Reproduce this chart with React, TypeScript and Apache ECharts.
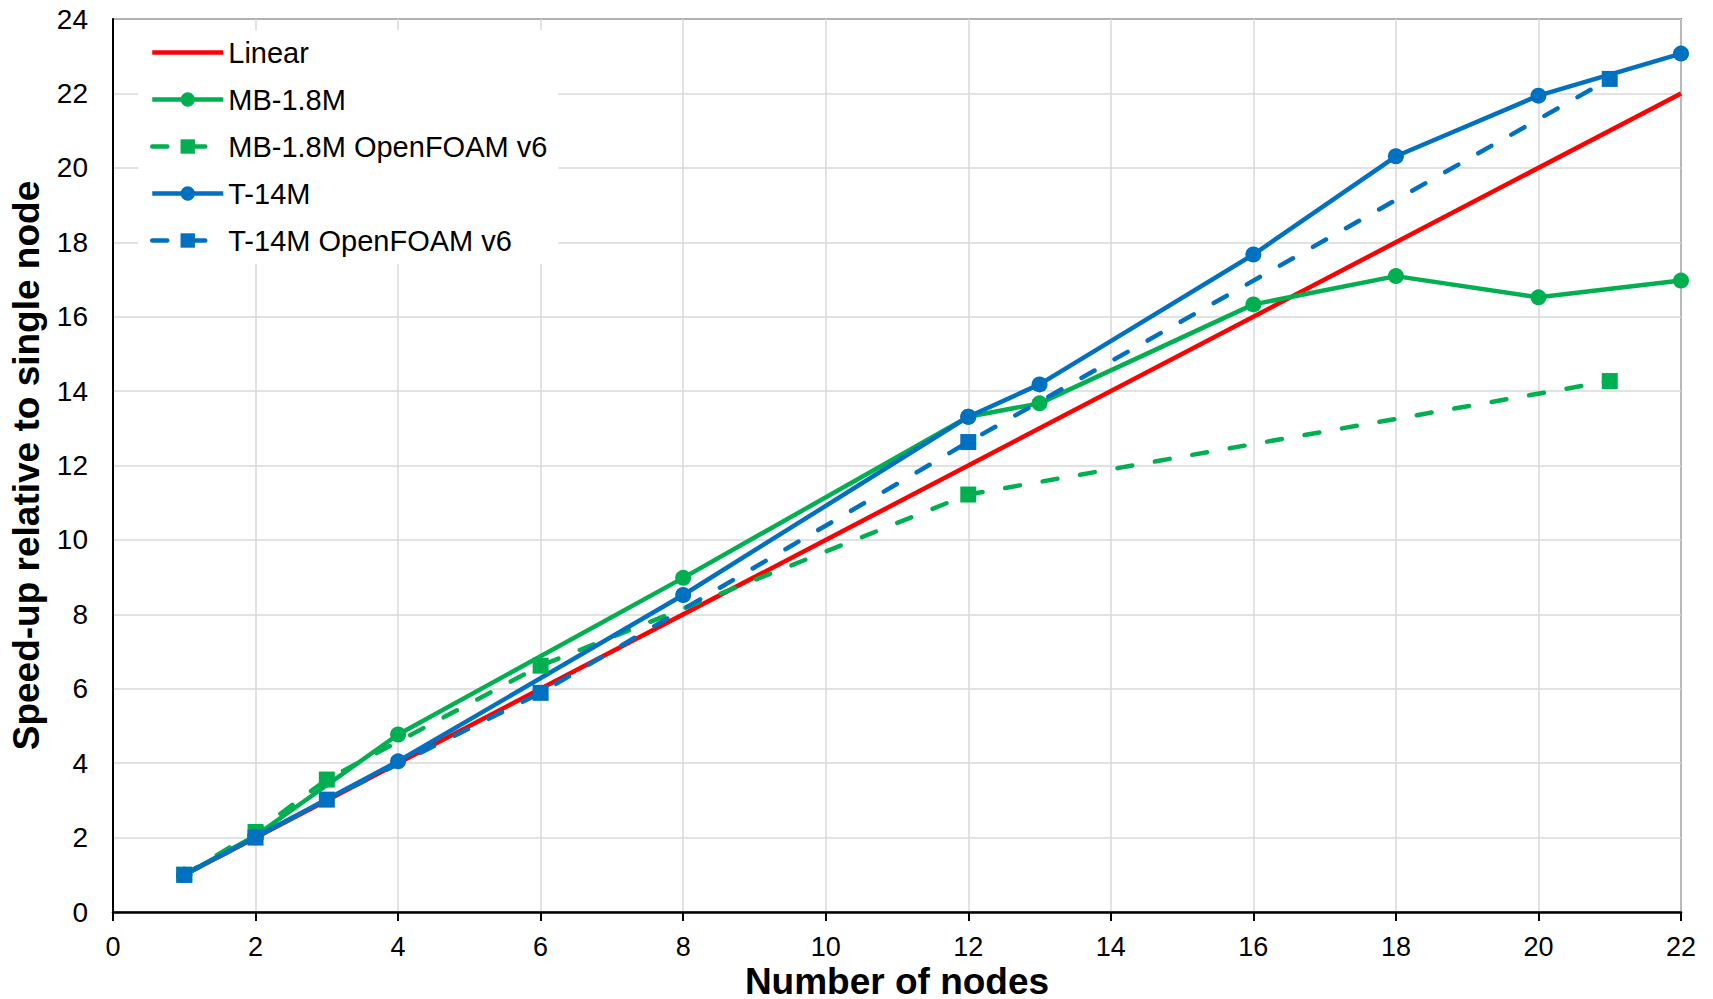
import React, { useEffect, useRef } from "react";
import * as echarts from "echarts";

// ---- data ----
const seriesNames = ["Linear", "MB-1.8M", "MB-1.8M OpenFOAM v6", "T-14M", "T-14M OpenFOAM v6"];

const linearNodes = [1, 22];
const linearSpeedup = [1, 22];

const mbNodes = [1, 2, 4, 8, 12, 13, 16, 18, 20, 22];
const mbSpeedup = [1, 2.05, 4.77, 8.98, 13.31, 13.67, 16.33, 17.09, 16.52, 16.97];

const mbOfNodes = [1, 2, 3, 6, 12, 21];
const mbOfSpeedup = [1, 2.15, 3.56, 6.62, 11.22, 14.27];

const tNodes = [1, 2, 4, 8, 12, 13, 16, 18, 20, 22];
const tSpeedup = [1, 2.01, 4.05, 8.52, 13.31, 14.18, 17.67, 20.31, 21.94, 23.07];

const tOfNodes = [1, 2, 3, 6, 12, 21];
const tOfSpeedup = [1, 2.0, 3.02, 5.89, 12.63, 22.39];

const xMin = 0;
const xMax = 22;
const xStep = 2;
const yMin = 0;
const yMax = 24;
const yStep = 2;

const xTitle = "Number of nodes";
const yTitle = "Speed-up relative to single node";

// ---- styles ----
const RED = "#FF0000";
const GREEN = "#00B050";
const BLUE = "#0070C0";
const FONT = 'Arial, "Liberation Sans", sans-serif';
const LW = 4.5;
const SYM = 16;

const zip = (xs: number[], ys: number[]) => xs.map((x, i) => [x, ys[i]]);

export default function App() {
  const ref = useRef<HTMLDivElement>(null);

  useEffect(() => {
    document.body.style.margin = "0";
    document.body.style.overflow = "hidden";
    if (!ref.current) return;
    const chart = echarts.init(ref.current, undefined, { renderer: "svg" });

    const dash = [15, 23];

    const option: any = {
      animation: false,
      backgroundColor: "#fff",
      grid: {
        left: 113,
        right: 32,
        top: 19,
        bottom: 87,
        containLabel: false,
        outerBoundsMode: "none",
        show: true,
        borderColor: "#000",
        borderWidth: 1.3,
        backgroundColor: "transparent",
      },
      legend: {
        orient: "vertical",
        left: 138,
        top: 30,
        backgroundColor: "#fff",
        padding: [8, 11, 9, 12],
        itemWidth: 71,
        itemHeight: 18,
        itemGap: 18,
        lineStyle: { width: LW },
        textStyle: { fontSize: 29, lineHeight: 28, color: "#000", fontFamily: FONT },
        data: [
          { name: seriesNames[0], itemStyle: { opacity: 0 } },
          seriesNames[1],
          seriesNames[2],
          seriesNames[3],
          seriesNames[4],
        ],
      },
      xAxis: {
        type: "value",
        min: xMin,
        max: xMax,
        interval: xStep,
        name: xTitle,
        nameLocation: "middle",
        nameGap: 54,
        nameMoveOverlap: false,
        nameTextStyle: { fontSize: 37, lineHeight: 30, fontWeight: "bold", color: "#000", fontFamily: FONT },
        axisLine: { show: true, onZero: false, lineStyle: { color: "#000", width: 2.5 } },
        axisTick: { show: true, inside: false, length: 9, lineStyle: { color: "#000", width: 2 } },
        axisLabel: { fontSize: 27, lineHeight: 27, color: "#000", fontFamily: FONT, margin: 21 },
        splitLine: { show: true, lineStyle: { color: "#D9D9D9", width: 1.5 } },
      },
      yAxis: {
        type: "value",
        min: yMin,
        max: yMax,
        interval: yStep,
        name: yTitle,
        nameLocation: "middle",
        nameGap: 68,
        nameMoveOverlap: false,
        nameTextStyle: { fontSize: 37, fontWeight: "bold", color: "#000", fontFamily: FONT },
        axisLine: { show: true, onZero: false, lineStyle: { color: "#000", width: 2 } },
        axisTick: { show: false },
        axisLabel: { fontSize: 28, color: "#000", fontFamily: FONT, margin: 25 },
        splitLine: { show: true, lineStyle: { color: "#D9D9D9", width: 1.5 } },
      },
      series: [
        {
          name: seriesNames[0],
          type: "line",
          data: zip(linearNodes, linearSpeedup),
          symbol: "none",
          lineStyle: { color: RED, width: LW },
          itemStyle: { color: RED },
        },
        {
          name: seriesNames[1],
          type: "line",
          data: zip(mbNodes, mbSpeedup),
          symbol: "circle",
          symbolSize: SYM,
          lineStyle: { color: GREEN, width: LW },
          itemStyle: { color: GREEN },
        },
        {
          name: seriesNames[2],
          type: "line",
          data: zip(mbOfNodes, mbOfSpeedup),
          symbol: "rect",
          symbolSize: SYM,
          lineStyle: { color: GREEN, width: LW, type: dash, cap: "round" },
          itemStyle: { color: GREEN },
        },
        {
          name: seriesNames[3],
          type: "line",
          data: zip(tNodes, tSpeedup),
          symbol: "circle",
          symbolSize: SYM,
          lineStyle: { color: BLUE, width: LW },
          itemStyle: { color: BLUE },
        },
        {
          name: seriesNames[4],
          type: "line",
          data: zip(tOfNodes, tOfSpeedup),
          symbol: "rect",
          symbolSize: SYM,
          lineStyle: { color: BLUE, width: LW, type: dash, cap: "round" },
          itemStyle: { color: BLUE },
        },
      ],
    };

    chart.setOption(option);
    return () => {
      chart.dispose();
    };
  }, []);

  return <div ref={ref} style={{ width: 1713, height: 999 }} />;
}
